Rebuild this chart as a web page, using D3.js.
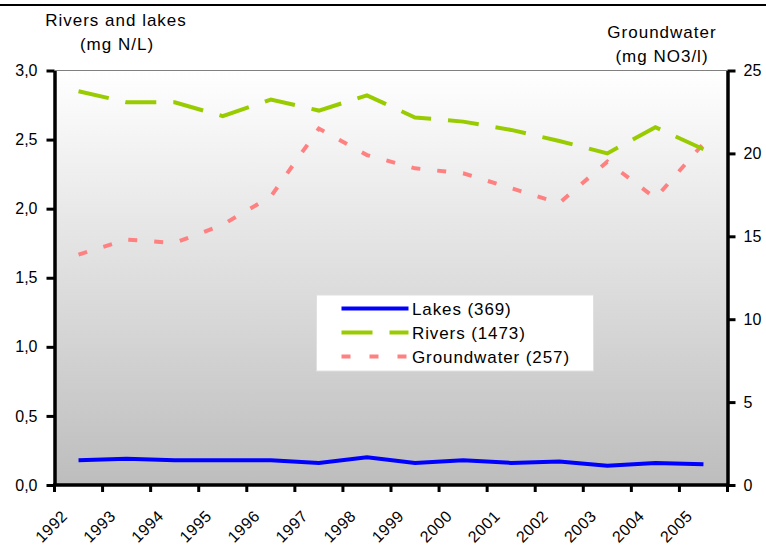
<!DOCTYPE html>
<html>
<head>
<meta charset="utf-8">
<script src="https://cdn.jsdelivr.net/npm/d3@7"></script>
<style>
  html, body { margin: 0; padding: 0; background: #fff; }
  svg { display: block; font-family: "Liberation Sans", Arial, sans-serif; }
</style>
</head>
<body>
<svg id="chart" width="766" height="546"></svg>
<script>
// ---- data ----
const years = ["1992","1993","1994","1995","1996","1997","1998","1999","2000","2001","2002","2003","2004","2005"];
const lakes = [0.18, 0.19, 0.18, 0.18, 0.18, 0.16, 0.20, 0.16, 0.18, 0.16, 0.17, 0.14, 0.16, 0.15];
const rivers = [2.85, 2.77, 2.77, 2.67, 2.79, 2.71, 2.82, 2.66, 2.63, 2.57, 2.49, 2.40, 2.59, 2.43];
const groundwater = [13.9, 14.8, 14.6, 15.7, 17.4, 21.5, 19.9, 19.1, 18.8, 17.9, 17.0, 19.5, 17.3, 20.6];
const leftTicks = [0, 0.5, 1.0, 1.5, 2.0, 2.5, 3.0];
const rightTicks = [0, 5, 10, 15, 20, 25];
const legendLabels = ["Lakes (369)", "Rivers (1473)", "Groundwater (257)"];
const leftTitle = ["Rivers and lakes", "(mg N/L)"];
const rightTitle = ["Groundwater", "(mg NO3/l)"];

// ---- layout ----
const svg = d3.select("#chart");
const X0 = 54.5, X1 = 727.5, Y0 = 70.5, Y1 = 485;

const x = d3.scaleBand().domain(years).range([X0, X1]).padding(0);
const yL = d3.scaleLinear().domain([0, 3]).range([Y1, Y0]);
const yR = d3.scaleLinear().domain([0, 25]).range([Y1, Y0]);
const cx = d => x(d) + x.bandwidth() / 2;

svg.append("rect").attr("width", 766).attr("height", 546).attr("fill", "#fff");
svg.append("line").attr("x1", 0).attr("x2", 766).attr("y1", 5).attr("y2", 5)
  .attr("stroke", "#000").attr("stroke-width", 2);

const defs = svg.append("defs");
const grad = defs.append("linearGradient").attr("id", "bg").attr("x1", 0).attr("x2", 0).attr("y1", 0).attr("y2", 1);
grad.append("stop").attr("offset", "0%").attr("stop-color", "#ffffff");
grad.append("stop").attr("offset", "100%").attr("stop-color", "#bdbdbd");

svg.append("rect").attr("x", X0).attr("y", Y0).attr("width", X1 - X0).attr("height", Y1 - Y0)
  .attr("fill", "url(#bg)");
svg.append("line").attr("x1", X0).attr("x2", X1).attr("y1", Y0).attr("y2", Y0)
  .attr("stroke", "#808080").attr("stroke-width", 1);

// ---- series ----
const lineGen = (vals, scale) => d3.line().x((d, i) => cx(years[i])).y(d => scale(d))(vals);

svg.append("path").attr("d", lineGen(groundwater, yR)).attr("fill", "none")
  .attr("stroke", "#ff8080").attr("stroke-width", 4).attr("stroke-dasharray", "9,17");
svg.append("path").attr("d", lineGen(rivers, yL)).attr("fill", "none")
  .attr("stroke", "#99cc00").attr("stroke-width", 4).attr("stroke-dasharray", "31,17");
svg.append("path").attr("d", lineGen(lakes, yL)).attr("fill", "none")
  .attr("stroke", "#0000ff").attr("stroke-width", 4);

// ---- axes ----
const fmt = d => d3.format(".1f")(d).replace(".", ",");
const styleAxis = g => {
  g.select(".domain").attr("stroke", "#000").attr("stroke-width", 3.5);
  g.selectAll(".tick line").attr("stroke", "#000").attr("stroke-width", 3);
  g.selectAll(".tick text").attr("fill", "#000").attr("font-size", 16)
    .attr("font-family", "'Liberation Sans', Arial, sans-serif");
};

const gL = svg.append("g").attr("transform", `translate(${X0},0)`)
  .call(d3.axisLeft(yL).tickValues(leftTicks).tickFormat(fmt).tickSize(8).tickSizeOuter(0).tickPadding(9));
styleAxis(gL);

const gR = svg.append("g").attr("transform", `translate(${X1},0)`)
  .call(d3.axisRight(yR).tickValues(rightTicks).tickFormat(d3.format("d")).tickSize(8).tickSizeOuter(0).tickPadding(8));
styleAxis(gR);

const gB = svg.append("g").attr("transform", `translate(0,${Y1})`)
  .call(d3.axisBottom(x).tickSize(7).tickSizeOuter(0).tickPadding(0));
styleAxis(gB);
gB.select(".domain").attr("d", `M${X0 - 1.5},0H${X1 + 1.5}`);
gB.selectAll(".tick").attr("transform", d => `translate(${x(d)},0)`);
gB.selectAll(".tick text")
  .attr("text-anchor", "end").attr("dy", null).attr("y", null)
  .attr("font-size", 16).attr("letter-spacing", 0.5)
  .attr("transform", "translate(14,32) rotate(-45)");
gB.append("line").attr("x1", X1).attr("x2", X1).attr("y1", 0).attr("y2", 7)
  .attr("stroke", "#000").attr("stroke-width", 3);

// ---- titles ----
const titleStyle = t => t.attr("font-size", 17).attr("letter-spacing", 1).attr("fill", "#000").attr("text-anchor", "middle");
svg.append("text").attr("x", 116).attr("y", 26).text(leftTitle[0]).call(titleStyle);
svg.append("text").attr("x", 117).attr("y", 50).text(leftTitle[1]).call(titleStyle);
svg.append("text").attr("x", 662).attr("y", 38).text(rightTitle[0]).call(titleStyle);
svg.append("text").attr("x", 662).attr("y", 62).text(rightTitle[1]).call(titleStyle);

// ---- legend ----
const lg = svg.append("g");
lg.append("rect").attr("x", 316.5).attr("y", 295).attr("width", 277).attr("height", 76)
  .attr("fill", "#fff").attr("stroke", "#e0e0e0").attr("stroke-width", 1);
const legStyles = [
  { color: "#0000ff", dash: null },
  { color: "#99cc00", dash: "31,17" },
  { color: "#ff8080", dash: "9,19" }
];
const legY = d3.scalePoint().domain(legendLabels).range([308.5, 356.5]);
legendLabels.forEach((lab, i) => {
  const yy = legY(lab);
  lg.append("line").attr("x1", 341.5).attr("x2", 408.5).attr("y1", yy).attr("y2", yy)
    .attr("stroke", legStyles[i].color).attr("stroke-width", 4)
    .attr("stroke-dasharray", legStyles[i].dash);
  lg.append("text").attr("x", 412).attr("y", yy).attr("dy", "0.36em")
    .attr("font-size", 17).attr("letter-spacing", 0.9).attr("fill", "#000").text(lab);
});
</script>
</body>
</html>
